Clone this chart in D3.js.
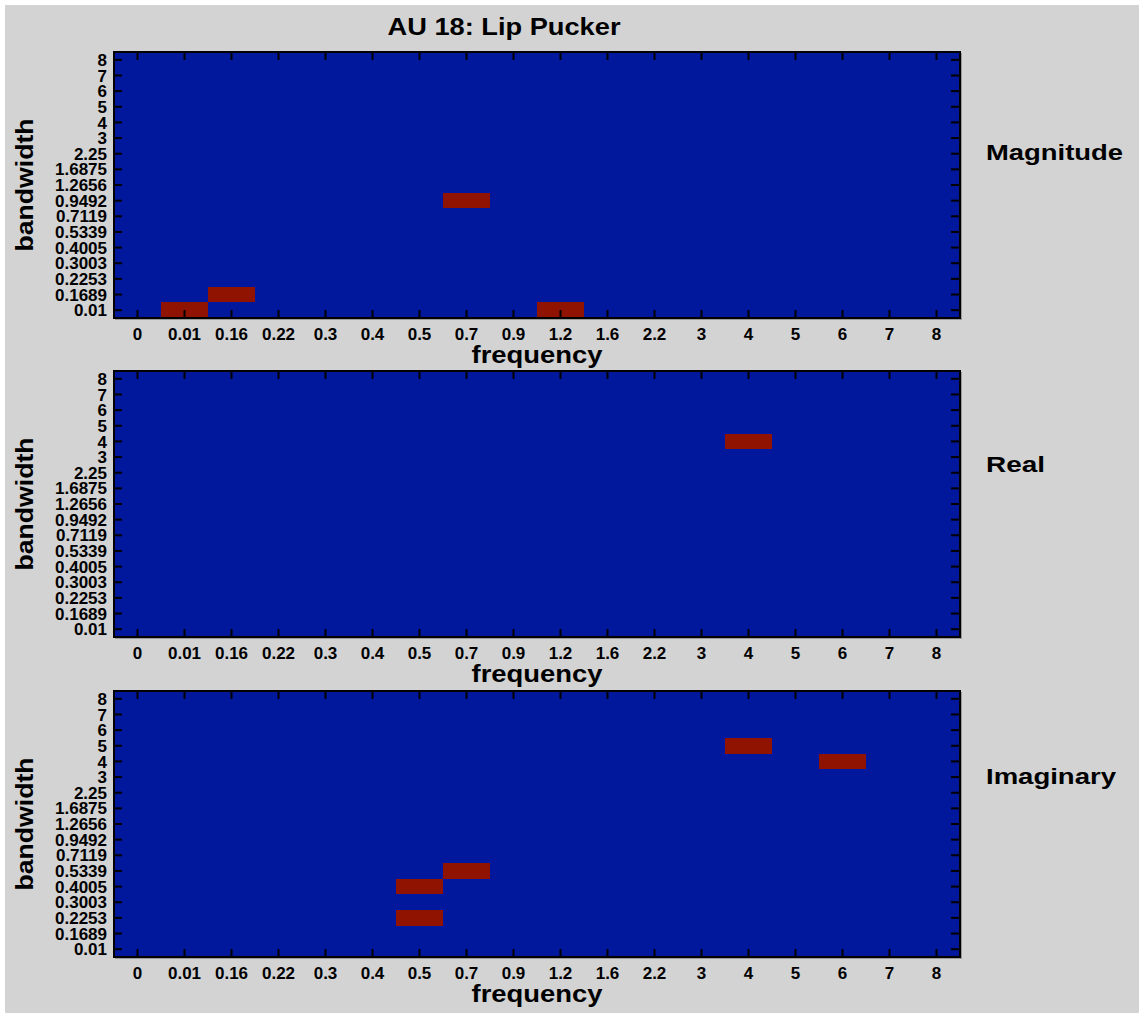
<!DOCTYPE html>
<html>
<head>
<meta charset="utf-8">
<script src="https://cdn.jsdelivr.net/npm/d3@7"></script>
<style>
  html, body { margin: 0; padding: 0; background: #ffffff; }
  svg { display: block; }
  text { font-family: "Liberation Sans", Arial, Helvetica, sans-serif; font-weight: bold; fill: #000; }
</style>
</head>
<body>
<script>
// Frequency / bandwidth grid of selected Gabor features for one action unit
const title = "AU 18: Lip Pucker";
const freqLabels = ["0", "0.01", "0.16", "0.22", "0.3", "0.4", "0.5", "0.7", "0.9", "1.2", "1.6", "2.2", "3", "4", "5", "6", "7", "8"];
const bandwidthLabels = ["8", "7", "6", "5", "4", "3", "2.25", "1.6875", "1.2656", "0.9492", "0.7119", "0.5339", "0.4005", "0.3003", "0.2253", "0.1689", "0.01"];
const panelNames = ["Magnitude", "Real", "Imaginary"];

// selected cells per panel: [frequency, bandwidth]
const magnitudeCells = [["0.01", "0.01"], ["0.16", "0.1689"], ["0.7", "0.9492"], ["1.2", "0.01"]];
const realCells = [["4", "4"]];
const imaginaryCells = [["4", "5"], ["6", "4"], ["0.7", "0.5339"], ["0.5", "0.4005"], ["0.5", "0.2253"]];

const panelCells = [magnitudeCells, realCells, imaginaryCells];

const W = 1139, H = 1013;
const plotX = 114, plotW = 846, plotH = 266;
const panelTops = [52, 371, 691];
const nameBaselines = [160, 472, 784];
const nameWidths = { "Magnitude": 137, "Real": 59, "Imaginary": 130 };

const svg = d3.select("body").append("svg").attr("width", W).attr("height", H);

svg.append("rect").attr("x", 5).attr("y", 5).attr("width", W - 5).attr("height", H - 5)
  .attr("fill", "#d3d3d3");

svg.append("text")
  .attr("x", 504).attr("y", 35)
  .attr("text-anchor", "middle")
  .attr("font-size", 24)
  .attr("textLength", 233).attr("lengthAdjust", "spacingAndGlyphs")
  .text(title);

const x = d3.scaleBand().domain(freqLabels).range([plotX, plotX + plotW]);
const color = d3.scaleOrdinal().domain([0, 1]).range(["#02189c", "#8f1300"]);

panelNames.forEach((name, i) => {
  const top = panelTops[i];
  const y = d3.scaleBand().domain(bandwidthLabels).range([top, top + plotH]);
  const active = new Set(panelCells[i].map(d => d[0] + "|" + d[1]));

  // full grid of cells, 1 where the feature was selected
  const grid = [];
  bandwidthLabels.forEach(b => freqLabels.forEach(f => {
    grid.push({ f, b, v: active.has(f + "|" + b) ? 1 : 0 });
  }));

  const g = svg.append("g");
  g.selectAll("rect.cell").data(grid).join("rect")
    .attr("class", "cell")
    .attr("x", d => x(d.f))
    .attr("y", d => y(d.b))
    .attr("width", x.bandwidth())
    .attr("height", y.bandwidth())
    .attr("fill", d => color(d.v))
    .attr("shape-rendering", "crispEdges");

  // axes with inward ticks on all four sides
  const bottom = g.append("g").attr("transform", `translate(0,${top + plotH})`)
    .call(d3.axisBottom(x).tickSize(-8));
  bottom.selectAll("text").attr("y", 22).attr("dy", 0).attr("font-size", 17);

  g.append("g").attr("transform", `translate(0,${top})`)
    .call(d3.axisTop(x).tickSize(-8).tickFormat(""));

  const left = g.append("g").attr("transform", `translate(${plotX},0)`)
    .call(d3.axisLeft(y).tickSize(-8).tickPadding(7));
  left.selectAll("text").attr("font-size", 17).attr("dy", "0.36em");

  g.append("g").attr("transform", `translate(${plotX + plotW},0)`)
    .call(d3.axisRight(y).tickSize(-9).tickFormat(""));

  g.selectAll(".domain").remove();
  g.selectAll(".tick line").attr("stroke", "#000").attr("stroke-width", 2);
  g.selectAll(".tick text").attr("fill", "#000")
    .style("font-family", "'Liberation Sans', Arial, sans-serif").style("font-weight", "bold");

  // frame
  g.append("rect")
    .attr("x", plotX + plotW + 1).attr("y", top + 1).attr("width", 1).attr("height", plotH + 1)
    .attr("fill", "#9a9a9a");
  g.append("rect")
    .attr("x", plotX + 1).attr("y", top + plotH + 1).attr("width", plotW + 1).attr("height", 1)
    .attr("fill", "#9a9a9a");
  g.append("rect")
    .attr("x", plotX).attr("y", top).attr("width", plotW).attr("height", plotH)
    .attr("fill", "none").attr("stroke", "#000").attr("stroke-width", 2);

  // axis titles
  g.append("text")
    .attr("x", plotX + plotW / 2).attr("y", top + plotH + 45)
    .attr("text-anchor", "middle").attr("font-size", 24)
    .attr("textLength", 131).attr("lengthAdjust", "spacingAndGlyphs")
    .text("frequency");

  g.append("text")
    .attr("transform", `translate(33,${top + plotH / 2}) rotate(-90)`)
    .attr("text-anchor", "middle").attr("font-size", 24)
    .attr("textLength", 133).attr("lengthAdjust", "spacingAndGlyphs")
    .text("bandwidth");

  g.append("text")
    .attr("x", 986).attr("y", nameBaselines[i])
    .attr("font-size", 22)
    .attr("textLength", nameWidths[name]).attr("lengthAdjust", "spacingAndGlyphs")
    .text(name);
});
</script>
</body>
</html>
